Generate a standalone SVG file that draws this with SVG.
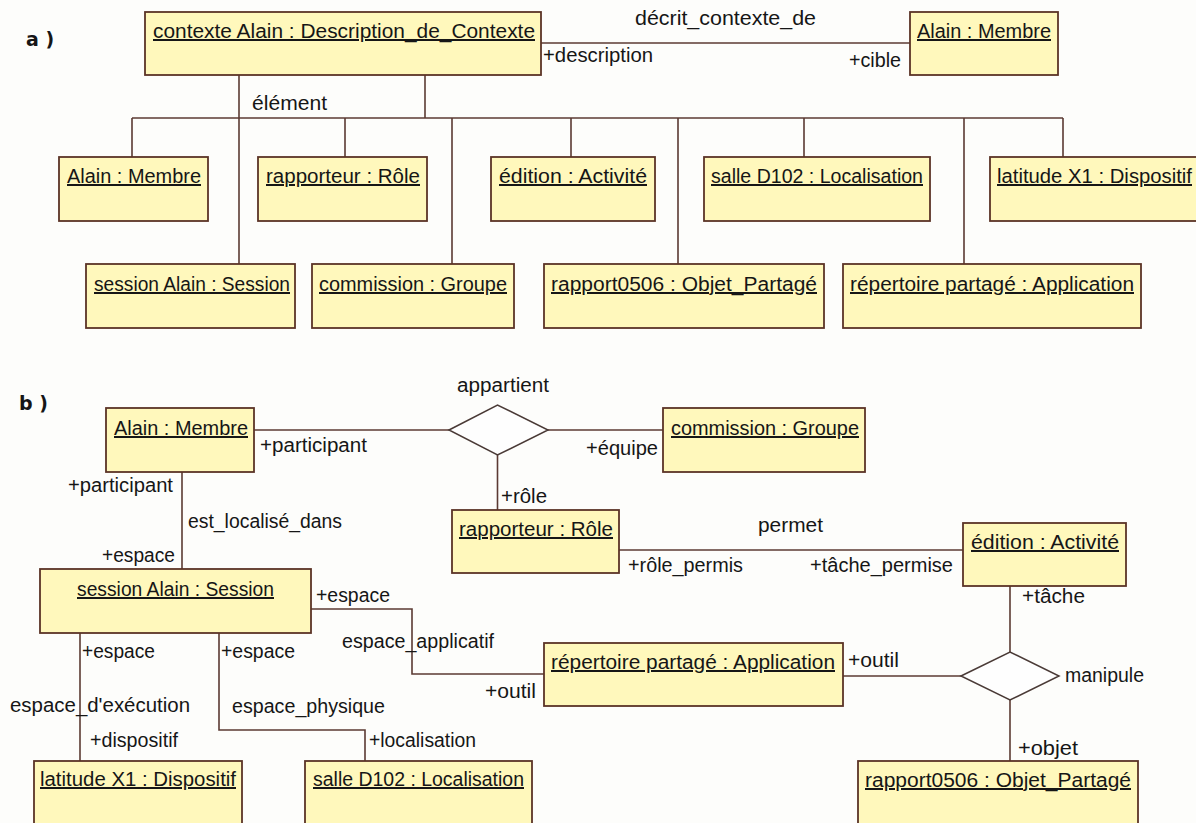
<svg xmlns="http://www.w3.org/2000/svg" width="1196" height="823" viewBox="0 0 1196 823">
<style>
.bg{fill:#fdfdfb}
.box{fill:#fff8bc;stroke:#5b3326;stroke-width:1.8}
.dia{fill:#fefefe;stroke:#4a3a36;stroke-width:1.5}
.ln{fill:none;stroke:#5b3a33;stroke-width:1.6}
text{font-family:"Liberation Sans",Arial,sans-serif;font-size:20px;fill:#161616}
.t{text-decoration:underline}
.hd{font-family:"DejaVu Sans",Verdana,sans-serif;font-weight:bold;font-size:19px}
</style>
<rect class="bg" x="0" y="0" width="1196" height="823"/>
<text class="hd" x="26" y="46">a )</text>
<text class="hd" x="19" y="410">b )</text>

<g id="connectors">
<path class="ln" d="M541 43H910"/>
<path class="ln" d="M239 75V264"/>
<path class="ln" d="M425 75V118"/>
<path class="ln" d="M132 118H1063"/>
<path class="ln" d="M132 118V157M345 118V157M452 118V264M571 118V157M678 118V264M804 118V157M964 118V264M1063 118V157"/>
<path class="ln" d="M254 430H449"/>
<path class="ln" d="M548 430H663"/>
<path class="ln" d="M497.5 455V510"/>
<path class="ln" d="M182 472V569"/>
<path class="ln" d="M619 550H963"/>
<path class="ln" d="M311 609H412V674H544"/>
<path class="ln" d="M80 633V761"/>
<path class="ln" d="M219 633V730H365V761"/>
<path class="ln" d="M1010 586V652"/>
<path class="ln" d="M843 676H961"/>
<path class="ln" d="M1010 700V761"/>
<text x="635" y="25" textLength="181" lengthAdjust="spacingAndGlyphs">décrit_contexte_de</text>
<text x="543" y="62" textLength="110" lengthAdjust="spacingAndGlyphs">+description</text>
<text x="849" y="67" textLength="52" lengthAdjust="spacingAndGlyphs">+cible</text>
<text x="252" y="110" textLength="75" lengthAdjust="spacingAndGlyphs">élément</text>
<text x="457" y="392" textLength="92" lengthAdjust="spacingAndGlyphs">appartient</text>
<text x="260" y="452" textLength="107" lengthAdjust="spacingAndGlyphs">+participant</text>
<text x="586" y="455" textLength="72" lengthAdjust="spacingAndGlyphs">+équipe</text>
<text x="68" y="492" textLength="105" lengthAdjust="spacingAndGlyphs">+participant</text>
<text x="501" y="503" textLength="46" lengthAdjust="spacingAndGlyphs">+rôle</text>
<text x="188" y="528" textLength="154" lengthAdjust="spacingAndGlyphs">est_localisé_dans</text>
<text x="758" y="532" textLength="65" lengthAdjust="spacingAndGlyphs">permet</text>
<text x="102" y="562" textLength="73" lengthAdjust="spacingAndGlyphs">+espace</text>
<text x="628" y="572" textLength="115" lengthAdjust="spacingAndGlyphs">+rôle_permis</text>
<text x="810" y="572" textLength="143" lengthAdjust="spacingAndGlyphs">+tâche_permise</text>
<text x="316" y="602" textLength="74" lengthAdjust="spacingAndGlyphs">+espace</text>
<text x="1022" y="603" textLength="63" lengthAdjust="spacingAndGlyphs">+tâche</text>
<text x="342" y="648" textLength="152" lengthAdjust="spacingAndGlyphs">espace_applicatif</text>
<text x="82" y="658" textLength="73" lengthAdjust="spacingAndGlyphs">+espace</text>
<text x="221" y="658" textLength="74" lengthAdjust="spacingAndGlyphs">+espace</text>
<text x="848" y="667" textLength="51" lengthAdjust="spacingAndGlyphs">+outil</text>
<text x="1065" y="682" textLength="79" lengthAdjust="spacingAndGlyphs">manipule</text>
<text x="485" y="698" textLength="51" lengthAdjust="spacingAndGlyphs">+outil</text>
<text x="10" y="712" textLength="180" lengthAdjust="spacingAndGlyphs">espace_d'exécution</text>
<text x="232" y="713" textLength="153" lengthAdjust="spacingAndGlyphs">espace_physique</text>
<text x="90" y="747" textLength="88" lengthAdjust="spacingAndGlyphs">+dispositif</text>
<text x="369" y="747" textLength="107" lengthAdjust="spacingAndGlyphs">+localisation</text>
<text x="1018" y="755" textLength="60" lengthAdjust="spacingAndGlyphs">+objet</text>
</g>

<g id="diamond-appartient"><path class="dia" d="M449 430L497.5 405L548 430L497.5 455Z"/></g>
<g id="diamond-manipule"><path class="dia" d="M961 676L1010 652L1059 676L1010 700Z"/></g>

<g id="a-contexte"><rect class="box" x="145" y="12" width="396" height="63"/><text class="t" x="153" y="38" textLength="382" lengthAdjust="spacingAndGlyphs">contexte Alain : Description_de_Contexte</text></g>
<g id="a-alain-cible"><rect class="box" x="910" y="12" width="148" height="63"/><text class="t" x="917" y="38" textLength="134" lengthAdjust="spacingAndGlyphs">Alain : Membre</text></g>
<g id="a-alain"><rect class="box" x="59" y="157" width="149" height="64"/><text class="t" x="67" y="183" textLength="134" lengthAdjust="spacingAndGlyphs">Alain : Membre</text></g>
<g id="a-rapporteur"><rect class="box" x="258" y="157" width="169" height="64"/><text class="t" x="266" y="183" textLength="154" lengthAdjust="spacingAndGlyphs">rapporteur : Rôle</text></g>
<g id="a-edition"><rect class="box" x="491" y="157" width="164" height="64"/><text class="t" x="499" y="183" textLength="148" lengthAdjust="spacingAndGlyphs">édition : Activité</text></g>
<g id="a-salle"><rect class="box" x="704" y="157" width="226" height="64"/><text class="t" x="711" y="183" textLength="212" lengthAdjust="spacingAndGlyphs">salle D102 : Localisation</text></g>
<g id="a-latitude"><rect class="box" x="990" y="157" width="230" height="64"/><text class="t" x="997" y="183" textLength="195" lengthAdjust="spacingAndGlyphs">latitude X1 : Dispositif</text></g>
<g id="a-session"><rect class="box" x="86" y="264" width="209" height="64"/><text class="t" x="94" y="291" textLength="196" lengthAdjust="spacingAndGlyphs">session Alain : Session</text></g>
<g id="a-commission"><rect class="box" x="312" y="264" width="202" height="64"/><text class="t" x="319" y="291" textLength="188" lengthAdjust="spacingAndGlyphs">commission : Groupe</text></g>
<g id="a-rapport"><rect class="box" x="544" y="264" width="280" height="64"/><text class="t" x="551" y="291" textLength="266" lengthAdjust="spacingAndGlyphs">rapport0506 : Objet_Partagé</text></g>
<g id="a-repertoire"><rect class="box" x="843" y="264" width="298" height="64"/><text class="t" x="850" y="291" textLength="284" lengthAdjust="spacingAndGlyphs">répertoire partagé : Application</text></g>

<g id="b-alain"><rect class="box" x="106" y="408" width="148" height="64"/><text class="t" x="114" y="435" textLength="134" lengthAdjust="spacingAndGlyphs">Alain : Membre</text></g>
<g id="b-commission"><rect class="box" x="663" y="408" width="202" height="64"/><text class="t" x="671" y="435" textLength="188" lengthAdjust="spacingAndGlyphs">commission : Groupe</text></g>
<g id="b-rapporteur"><rect class="box" x="452" y="510" width="167" height="63"/><text class="t" x="459" y="536" textLength="154" lengthAdjust="spacingAndGlyphs">rapporteur : Rôle</text></g>
<g id="b-edition"><rect class="box" x="963" y="523" width="163" height="63"/><text class="t" x="971" y="549" textLength="148" lengthAdjust="spacingAndGlyphs">édition : Activité</text></g>
<g id="b-session"><rect class="box" x="40" y="569" width="271" height="64"/><text class="t" x="77" y="596" textLength="197" lengthAdjust="spacingAndGlyphs">session Alain : Session</text></g>
<g id="b-repertoire"><rect class="box" x="544" y="643" width="299" height="63"/><text class="t" x="551" y="669" textLength="284" lengthAdjust="spacingAndGlyphs">répertoire partagé : Application</text></g>
<g id="b-latitude"><rect class="box" x="34" y="761" width="208" height="80"/><text class="t" x="40" y="786" textLength="196" lengthAdjust="spacingAndGlyphs">latitude X1 : Dispositif</text></g>
<g id="b-salle"><rect class="box" x="305" y="761" width="227" height="80"/><text class="t" x="313" y="786" textLength="211" lengthAdjust="spacingAndGlyphs">salle D102 : Localisation</text></g>
<g id="b-rapport"><rect class="box" x="858" y="761" width="280" height="80"/><text class="t" x="865" y="787" textLength="266" lengthAdjust="spacingAndGlyphs">rapport0506 : Objet_Partagé</text></g>
</svg>
